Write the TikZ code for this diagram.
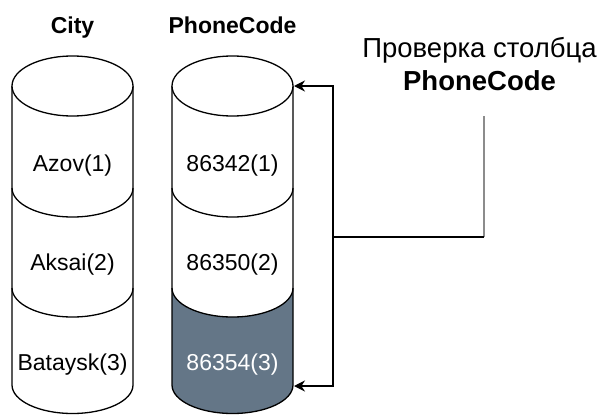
\documentclass[tikz,border=0pt]{standalone}
\usepackage{fontspec}
\setmainfont{Liberation Sans}
\usetikzlibrary{arrows.meta}
\definecolor{darkcell}{HTML}{647687}
\definecolor{guide}{HTML}{8C8C8C}
\tikzset{
  outline/.style={draw=black, line width=1.3pt},
  celltext/.style={anchor=base, inner sep=0pt, font=\fontsize{23}{27}\selectfont},
  headtext/.style={anchor=base, inner sep=0pt, font=\fontsize{23}{27}\selectfont\bfseries},
  labeltext/.style={anchor=base, inner sep=0pt, font=\fontsize{27.5}{33}\selectfont},
  conn/.style={draw=black, line width=1.3pt},
  connarrow/.style={conn, -{Stealth[length=11pt, width=11pt]}},
  guideline/.style={draw=guide, line width=2pt},
}
\begin{document}
\begin{tikzpicture}[x=1pt, y=-1pt]
\useasboundingbox (0,0) rectangle (603,415);

% ---------- City cylinder ----------
\fill[white] (12,86) -- (12,385) arc[start angle=180, end angle=360, x radius=60.5pt, y radius=28.5pt] -- (133,86) -- cycle;
\draw[outline] (12,86) -- (12,385) arc[start angle=180, end angle=360, x radius=60.5pt, y radius=28.5pt] -- (133,86);
\draw[outline, fill=white] (72.5,86) ellipse[x radius=60.5pt, y radius=30pt];
\draw[outline] (12,188) arc[start angle=180, end angle=360, x radius=60.5pt, y radius=29pt];
\draw[outline] (12,288) arc[start angle=180, end angle=360, x radius=60.5pt, y radius=29pt];

% ---------- PhoneCode cylinder ----------
\fill[darkcell] (172,288) -- (172,385) arc[start angle=180, end angle=360, x radius=60.5pt, y radius=28.5pt] -- (293,288) arc[start angle=0, end angle=-180, x radius=60.5pt, y radius=29pt] -- cycle;
\draw[outline] (172,86) -- (172,385) arc[start angle=180, end angle=360, x radius=60.5pt, y radius=28.5pt] -- (293,86);
\draw[outline, fill=white] (232.5,86) ellipse[x radius=60.5pt, y radius=30pt];
\draw[outline] (172,188) arc[start angle=180, end angle=360, x radius=60.5pt, y radius=29pt];
\draw[outline] (172,288) arc[start angle=180, end angle=360, x radius=60.5pt, y radius=29pt];

% ---------- headers ----------
\node[headtext] (hcity) at (72.5,33) {City};
\node[headtext] (hphone) at (232.5,33) {PhoneCode};

% ---------- cells ----------
\node[celltext] (c1) at (72.5,171) {Azov(1)};
\node[celltext] (c2) at (72.5,270) {Aksai(2)};
\node[celltext] (c3) at (72.5,370) {Bataysk(3)};
\node[celltext] (p1) at (232.5,171) {86342(1)};
\node[celltext] (p2) at (232.5,270) {86350(2)};
\node[celltext, text=white] (p3) at (232.5,370) {86354(3)};

% ---------- label ----------
\node[labeltext] (lab1) at (479.5,57) {Проверка столбца};
\node[labeltext] (lab2) at (479.5,90) {\bfseries PhoneCode};

% ---------- connector ----------
\coordinate (lbot) at (484,116);
\coordinate (bend) at (484,237);
\coordinate (junc) at (333,237);
\coordinate (pctop) at (294,86);
\coordinate (pcbot) at (294,386);
\draw[guideline] (lbot) -- (bend);
\draw[conn] (bend) -- (junc);
\draw[connarrow] (junc) |- (pctop);
\draw[connarrow] (junc) |- (pcbot);
\end{tikzpicture}
\end{document}
